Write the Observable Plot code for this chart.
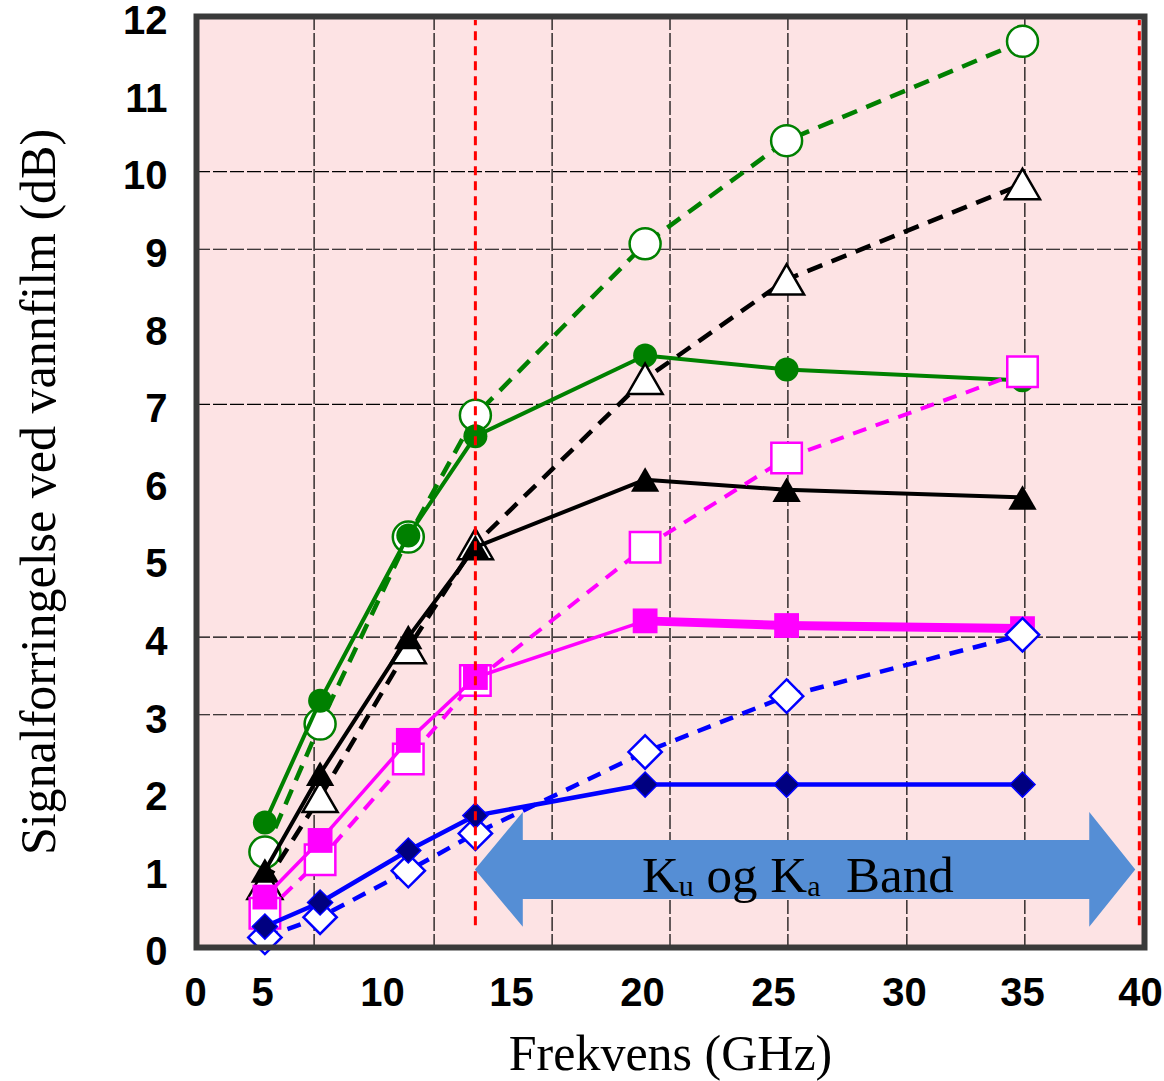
<!DOCTYPE html>
<html>
<head>
<meta charset="utf-8">
<script src="https://cdn.jsdelivr.net/npm/d3@7"></script>
<script src="https://cdn.jsdelivr.net/npm/@observablehq/plot@0.6"></script>
<style>
  body { margin: 0; background: #fff; }
  svg { display: block; }
</style>
</head>
<body>
<div id="chart"></div>
<script>
// ---- data (frequency in GHz, attenuation in dB) ----
const freq = [5.1, 7.4, 11, 13.6, 20.1, 25.5, 35];
const greenOpen     = [1.23, 2.88, 5.29, 6.86, 9.07, 10.40, 11.68];
const greenFilled   = [1.61, 3.18, 5.31, 6.59, 7.63, 7.45, 7.31];
const blackOpen     = [0.82, 1.94, 3.86, 5.20, 7.33, 8.61, 9.84];
const blackFilled   = [0.99, 2.24, 4.00, 5.16, 6.03, 5.90, 5.80];
const magentaOpen   = [0.44, 1.13, 2.43, 3.44, 5.16, 6.31, 7.42];
const magentaFilled = [0.65, 1.38, 2.67, 3.48, 4.21, 4.15, 4.11];
const blueOpen      = [0.13, 0.39, 0.99, 1.47, 2.52, 3.24, 4.03];
const blueFilled    = [0.27, 0.58, 1.25, 1.70, 2.10, 2.10, 2.10];

const xTicks = [0, 5, 10, 15, 20, 25, 30, 35, 40];
const yTicks = [0, 1, 2, 3, 4, 5, 6, 7, 8, 9, 10, 11, 12];
const xGrid = [7.15, 12, 16.55, 21.05, 25.55, 30.1, 35.1];
const yGrid = [3, 4, 7, 9, 10];
const bandEdges = [13.6, 39.95];          // red dashed band limits (GHz)
const bandArrow = {x0: 13.6, head0: 15.45, head1: 37.85, x1: 39.8, mid: 1.0, shaft: 0.38, head: 0.74};
const bandLabel = {x: 20.0, y: 0.71};

const xLabel = "Frekvens (GHz)";
const yLabel = "Signalforringelse ved vannfilm (dB)";

// ---- build tables ----
const rows = vals => freq.map((f, i) => ({f, v: vals[i]}));
const series = [
  {vals: greenOpen,     color: "#008000", dash: "16,10", lw: 4.5, symbol: "circle",   r: 15.5, fill: "white",   stroke: "#008000", sw: 2.5, dy: 0},
  {vals: greenFilled,   color: "#008000", dash: null,    lw: 4,   symbol: "circle",   r: 12,   fill: "#008000", stroke: "none",    sw: 0,   dy: 0},
  {vals: blackOpen,     color: "#000000", dash: "16,10", lw: 4.5, symbol: "triangle", r: 13,   fill: "white",   stroke: "#000000", sw: 2.5, dy: 5},
  {vals: blackFilled,   color: "#000000", dash: null,    lw: 4,   symbol: "triangle", r: 10.5, fill: "#000000", stroke: "none",    sw: 0,   dy: 4},
  {vals: magentaOpen,   color: "#ff00ff", dash: "14,10", lw: 4,   symbol: "square",   r: 17.2, fill: "white",   stroke: "#ff00ff", sw: 2.5, dy: 0},
  {vals: magentaFilled, color: "#ff00ff", dash: null,    lw: 3.5, symbol: "square",   r: 14,   fill: "#ff00ff", stroke: "none",    sw: 0,   dy: 0, thickFrom: 20},
  {vals: blueOpen,      color: "#0000ff", dash: "14,10", lw: 4.5, symbol: "diamond2", r: 15,   fill: "white",   stroke: "#0000ff", sw: 2.5, dy: 0},
  {vals: blueFilled,    color: "#0000ff", dash: null,    lw: 4.5, symbol: "diamond2", r: 11.3, fill: "#000080", stroke: "#0000ff", sw: 1.5, dy: 0}
];

const a = bandArrow;
const arrowPts = [
  {x: a.x0,    y1: a.mid,           y2: a.mid},
  {x: a.head0, y1: a.mid - a.head,  y2: a.mid + a.head},
  {x: a.head0, y1: a.mid - a.shaft, y2: a.mid + a.shaft},
  {x: a.head1, y1: a.mid - a.shaft, y2: a.mid + a.shaft},
  {x: a.head1, y1: a.mid - a.head,  y2: a.mid + a.head},
  {x: a.x1,    y1: a.mid,           y2: a.mid}
];

const seriesMarks = series.flatMap(s => {
  const d = rows(s.vals);
  const m = [Plot.line(d, {x: "f", y: "v", stroke: s.color, strokeWidth: s.lw,
      strokeDasharray: s.dash ?? undefined, strokeLinejoin: "round", strokeLinecap: s.dash ? "butt" : "round"})];
  if (s.thickFrom != null) {
    m.push(Plot.line(d.filter(p => p.f >= s.thickFrom), {x: "f", y: "v", stroke: s.color, strokeWidth: 9}));
  }
  m.push(Plot.dot(d, {x: "f", y: "v", symbol: s.symbol, r: s.r, fill: s.fill,
      stroke: s.stroke, strokeWidth: s.sw, dy: s.dy}));
  return m;
});

const sansBold = "Liberation Sans, Arial, Helvetica, sans-serif";
const serif = "Liberation Serif, Times New Roman, serif";

const chart = Plot.plot({
  width: 1164,
  height: 1081,
  marginLeft: 196,
  marginRight: 20,
  marginTop: 16,
  marginBottom: 134,
  style: {background: "white", overflow: "visible"},
  x: {type: "linear", domain: xTicks, range: [195, 262, 382, 511, 642, 773, 904, 1022, 1140]},
  y: {domain: [0, 12]},
  marks: [
    Plot.frame({fill: "#fde3e4"}),
    Plot.ruleY(yGrid, {stroke: "#000", strokeWidth: 1.2, strokeDasharray: "14,3"}),
    Plot.ruleX(xGrid, {stroke: "#000", strokeWidth: 1.2, strokeDasharray: "14,3"}),
    Plot.areaY(arrowPts, {x: "x", y1: "y1", y2: "y2", fill: "#558ed5"}),
    ...seriesMarks,
    Plot.ruleX(bandEdges, {y1: 0.28, y2: 11.95, stroke: "#ff0000", strokeWidth: 3, strokeDasharray: "9,6"}),
    Plot.frame({stroke: "#3a3a3a", strokeWidth: 6}),
    Plot.axisX({ticks: xTicks, tickSize: 0, tickPadding: 30, fontSize: 40, fontWeight: "bold",
      fontFamily: sansBold, label: null, fill: "#000"}),
    Plot.axisY({ticks: yTicks, tickSize: 0, tickPadding: 29, fontSize: 40, fontWeight: "bold",
      fontFamily: sansBold, label: null, fill: "#000", dy: 5}),
    Plot.text([xLabel], {frameAnchor: "bottom", lineAnchor: "bottom", dy: 122,
      fontSize: 50, fontFamily: serif, fill: "#000"}),
    Plot.text([yLabel], {frameAnchor: "left", textAnchor: "middle", lineAnchor: "middle", rotate: -90, dx: -158, dy: 10,
      fontSize: 50, fontFamily: serif, fill: "#000"})
  ]
});

// band label with subscripts, positioned through the plot's scales
const sx = chart.scale("x"), sy = chart.scale("y");
const t = d3.select(chart).append("text")
  .attr("x", sx.apply(bandLabel.x))
  .attr("y", sy.apply(bandLabel.y))
  .attr("text-anchor", "start")
  .attr("font-family", serif)
  .attr("font-size", 51)
  .attr("fill", "#000")
  .style("white-space", "pre");
t.append("tspan").text("K");
t.append("tspan").attr("font-size", 30).attr("dy", 4).text("u");
t.append("tspan").attr("dy", -4).text(" og K");
t.append("tspan").attr("font-size", 30).attr("dy", 4).text("a");
t.append("tspan").attr("dy", -4).text("  Band");

document.getElementById("chart").appendChild(chart);
</script>
</body>
</html>
